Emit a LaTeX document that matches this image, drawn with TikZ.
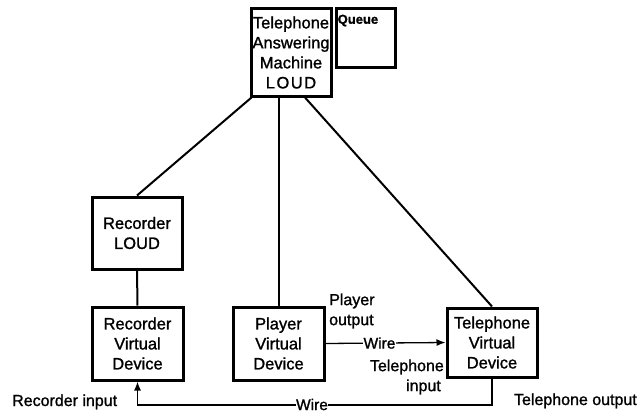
\documentclass[tikz,border=0pt]{standalone}
\usepackage{fontspec}
\setmainfont[FakeBold=1.2]{Liberation Sans}
\usetikzlibrary{arrows.meta,calc}
\begin{document}
\begin{tikzpicture}[x=1pt,y=-1pt,
  font=\fontsize{16.5}{20}\selectfont,
  unit/.style={draw,line width=3pt,align=center,inner sep=0pt,
    minimum width=#1},
  link/.style={line width=2pt},
  wire/.style={line width=1.3pt},
  tag/.style={inner sep=0pt,font=\fontsize{16}{20}\selectfont},
  wiretag/.style={fill=white,inner sep=1pt,font=\fontsize{15.5}{19}\selectfont},
  arr/.style={-{Latex[length=9pt,width=7pt]}}]
\useasboundingbox (0,0) rectangle (639,412);

% units
\node[unit=80pt,minimum height=87pt] (tam) at (291,52.5)
  {Telephone\\Answering\\Machine\\L\kern1.5pt O\kern1.5pt U\kern1.5pt D};
\node[draw,line width=3pt,minimum width=59pt,minimum height=58pt,inner sep=0pt] (queue) at (365.5,38) {};
\node[anchor=north west,inner sep=0pt,font=\fontsize{13}{15}\selectfont\bfseries] (qlabel) at ($(queue.north west)+(3,7)$) {Queue};
\node[unit=90pt,minimum height=72pt] (rl) at (137,233) {Recorder\\LOUD};
\node[unit=91pt,minimum height=73pt] (rv) at (137.5,343.5) {Recorder\\Virtual\\Device};
\node[unit=91pt,minimum height=73pt] (pv) at (278.5,343.5) {Player\\Virtual\\Device};
\node[unit=90pt,minimum height=69pt] (tv) at (492,342.5) {Telephone\\Virtual\\Device};

% hierarchy links
\draw[link] ($(tam.south west)+(2,0)$) -- (rl.north);
\draw[link] (pv.north) -- (pv.north |- tam.south);
\draw[link] ($(tam.south)+(14,0)$) -- (tv.north);
\draw[link] (rl.south) -- (rv.north);

% wires
\draw[wire,arr] (pv.east) -- node[wiretag,pos=0.45] (w1) {Wire} (tv.west);
\coordinate (bend) at (492,405);
\draw[wire,arr] (tv.south) -- (bend) -- (rv.south |- bend) -- (rv.south);
\node[wiretag,inner sep=0.5pt] (w2) at (312,404.5) {Wire};

% port labels
\node[tag,align=left,anchor=west] (po) at (329,311) {Player\\output};
\node[tag,align=right,anchor=east] (ti) at (444,377) {Telephone\\input\hspace*{3pt}};
\node[tag,anchor=base west] (ri) at (12,406) {Recorder input};
\node[tag,anchor=base east] (to) at (637,405) {Telephone output};
\end{tikzpicture}
\end{document}
